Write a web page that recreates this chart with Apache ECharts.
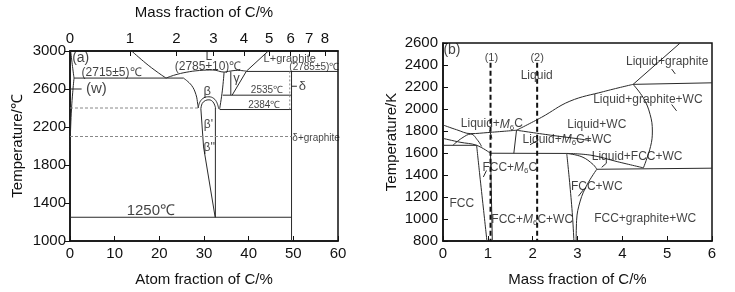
<!DOCTYPE html>
<html>
<head>
<meta charset="utf-8">
<script src="https://cdn.jsdelivr.net/npm/echarts@6/dist/echarts.min.js"></script>
<style>
  html, body { margin: 0; padding: 0; background: #fff; }
  #chart { width: 735px; height: 292px; }
</style>
</head>
<body>
<div id="chart"></div>
<script>
  // ---- panel (a): W-C diagram, atom fraction of C (%) vs temperature (°C)
  var massTicks = [0, 1, 2, 3, 4, 5, 6, 7, 8]
  var atomTicks = [0, 10, 20, 30, 40, 50, 60]
  var tempTicksA = [1000, 1400, 1800, 2200, 2600, 3000]

  var aWLiquidus = [[0.15, 3000], [0.5, 2860], [0.9, 2715]]
  var aWSolvus = [[0.9, 2715], [0.6, 2560], [0.35, 2400], [0.15, 2200], [0, 1950]]
  var aEutectic = [[0.9, 2715], [25.4, 2715]]
  var aLiquidusLeft = [[13.8, 3000], [17.0, 2870], [19.5, 2780], [21.5, 2715]]
  var aLiquidusMid = [[21.5, 2715], [23.5, 2748], [26, 2776], [29, 2795], [32, 2800], [34.5, 2778],
    [35.5, 2786], [37.5, 2796], [39.5, 2788]]
  var aLiquidusRight = [[39.5, 2788], [44.4, 3000]]
  var aBetaLeft = [[25.4, 2715], [27.2, 2639], [28.2, 2541], [28.6, 2440], [28.7, 2400]]
  var aBetaRight = [[34.5, 2778], [34.1, 2580], [33.5, 2390]]
  var aDomeOuter = [[28.7, 2400], [29.1, 2465], [30.0, 2508], [31.1, 2518], [32.2, 2500], [32.9, 2455], [33.3, 2390]]
  var aDomeInner = [[29.3, 2392], [29.6, 2448], [30.3, 2478], [31.1, 2486], [31.9, 2470], [32.4, 2430], [32.6, 2395]]
  var aBetaPPLeft = [[29.3, 2392], [29.9, 1990], [32.5, 1250]]
  var aBetaPPRight = [[32.55, 2400], [32.55, 1250]]
  var aGammaLeft = [[36.0, 2784], [36.0, 2535]]
  var aGammaRight = [[39.5, 2788], [36.3, 2535]]
  var a2785 = [[39.5, 2785], [60, 2785]]
  var a2535 = [[34.2, 2535], [49.6, 2535]]
  var a2384 = [[33.5, 2384], [49.6, 2384]]
  var a2400Dash = [[0, 2400], [28.7, 2400]]
  var aDeltaGraphite = [[0, 2100], [49.6, 2100]]
  var a1250 = [[0, 1250], [49.6, 1250]]
  var aDelta = [[49.6, 2785], [49.6, 1000]]
  var aDeltaDots = [[49.2, 2785], [49.2, 2384]]
  var aPointers = [
    [[0, 2600], [2.6, 2600]],
    [[49.6, 2629], [50.8, 2629]],
  ]
  var aTexts = [
    { name: '(a)', at: [2.4, 2920], size: 14 },
    { name: '(2715±5)℃', at: [9.3, 2776], size: 12 },
    { name: 'L', at: [31.1, 2945], size: 12 },
    { name: '(2785±10)℃', at: [30.9, 2838], size: 12 },
    { name: 'L+graphite', at: [49.2, 2912], size: 11 },
    { name: '(2785±5)℃', at: [54.7, 2826], size: 10 },
    { name: 'β', at: [30.7, 2575], size: 13 },
    { name: 'γ', at: [37.3, 2712], size: 13 },
    { name: '2535℃', at: [44.1, 2590], size: 10 },
    { name: '2384℃', at: [43.5, 2428], size: 10 },
    { name: 'δ', at: [52.0, 2629], size: 13 },
    { name: 'δ+graphite', at: [55.1, 2085], size: 10 },
    { name: "β'", at: [31.0, 2220], size: 12 },
    { name: "β''", at: [31.2, 1978], size: 12 },
    { name: '1250℃', at: [18.1, 1315], size: 15 },
    { name: '(w)', at: [5.9, 2600], size: 15 },
  ]

  // ---- panel (b): mass fraction of C (%) vs temperature (K)
  var massTicksB = [0, 1, 2, 3, 4, 5, 6]
  var tempTicksB = [800, 1000, 1200, 1400, 1600, 1800, 2000, 2200, 2400, 2600]

  var bLiqLeft = [[0, 1855], [0.3, 1812], [0.62, 1776], [1.0, 1786], [1.64, 1807]]
  var bLiqUpper = [[1.64, 1807], [2.2, 1925], [2.83, 2071], [3.58, 2158], [4.24, 2224]]
  var bLiqGraphite = [[4.24, 2224], [5.29, 2600]]
  var bLine2230 = [[4.24, 2224], [6, 2238]]
  var bWCArc = [[4.24, 2224], [4.47, 2100], [4.62, 1950], [4.67, 1800], [4.63, 1660], [4.47, 1465]]
  var bM6CWC = [[1.64, 1807], [1.58, 1598]]
  var bLiqM6CWC = [[1.64, 1807], [2.4, 1762], [3.0, 1730], [3.3, 1712]]
  var bLeftB = [[0, 1733], [0.38, 1698], [0.75, 1670], [1.05, 1600]]
  var bLine1670 = [[0, 1670], [0.75, 1670]]
  var bDome = [[0.22, 1670], [0.42, 1735], [0.62, 1772], [0.78, 1712], [0.86, 1660]]
  var bLine1600 = [[1.05, 1598], [2.76, 1596]]
  var bFCCSolvus = [[0.75, 1670], [0.82, 1400], [0.9, 1100], [0.98, 800]]
  var bM6CLine = [[1.06, 1598], [1.1, 800]]
  var bFCCWCLeft = [[2.76, 1596], [2.83, 1309], [2.89, 1017], [2.92, 800]]
  var bFCCWCRight = [[3.43, 1452], [3.21, 1309], [3.06, 1163], [2.98, 988], [2.97, 800]]
  var bUpper = [[2.76, 1596], [3.3, 1580], [3.9, 1520], [4.47, 1465]]
  var bLower = [[2.76, 1596], [3.1, 1565], [3.35, 1495], [3.43, 1452]]
  var bLine1450 = [[3.43, 1452], [6, 1462]]
  var bDash1 = [[1.06, 2420], [1.06, 800]]
  var bDash2 = [[2.1, 2420], [2.1, 800]]
  var bPointers = [
    [[5.10, 2363], [5.18, 2319]],
    [[5.10, 2041], [5.21, 1983]],
    [[1.04, 1807], [1.09, 1733]],
    [[1.94, 1675], [2.13, 1719]],
    [[3.54, 1470], [3.65, 1509]],
    [[0.90, 1382], [0.97, 1441]],
    [[3.02, 1207], [3.13, 1265]],
  ]
  var bTexts = [
    { name: '(b)', at: [0.2, 2538], size: 14 },
    { name: '(1)', at: [1.08, 2468], size: 11 },
    { name: '(2)', at: [2.1, 2468], size: 11 },
    { name: 'Liquid', at: [2.09, 2301], size: 12 },
    { name: 'Liquid+graphite', at: [5.0, 2433], size: 12 },
    { name: 'Liquid+graphite+WC', at: [4.57, 2082], size: 12 },
    { name: 'Liquid+{i|M}{s|6}C', at: [1.09, 1862], size: 12 },
    { name: 'Liquid+WC', at: [3.43, 1854], size: 12 },
    { name: 'Liquid+{i|M}{s|6}C+WC', at: [2.77, 1722], size: 12 },
    { name: 'Liquid+FCC+WC', at: [4.33, 1564], size: 12 },
    { name: 'FCC+{i|M}{s|6}C', at: [1.49, 1467], size: 12 },
    { name: 'FCC+WC', at: [3.43, 1292], size: 12 },
    { name: 'FCC', at: [0.42, 1143], size: 12 },
    { name: 'FCC+{i|M}{s|6}C+WC', at: [1.99, 993], size: 12 },
    { name: 'FCC+graphite+WC', at: [4.51, 1002], size: 12 },
  ]

  var FONT = 'Liberation Sans, Arial, sans-serif'
  var INK = '#2a2a2a'

  // mass % C -> atom % C in W-C (for the top axis of panel a)
  function massToAtom(w) {
    var c = w / 12.011
    var m = (100 - w) / 183.84
    return (c / (c + m)) * 100
  }
  var topTickPos = massTicks.map(massToAtom)

  var series = []
  function addLine(panel, data, style) {
    style = style || {}
    series.push({
      type: 'line',
      xAxisIndex: panel === 0 ? 0 : 2,
      yAxisIndex: panel,
      data: data,
      showSymbol: false,
      symbol: 'none',
      smooth: style.smooth || false,
      silent: true,
      animation: false,
      lineStyle: {
        color: style.color || INK,
        width: style.width || 1,
        type: style.type || 'solid',
      },
      z: 3,
    })
  }
  function addTexts(panel, list) {
    series.push({
      type: 'scatter',
      xAxisIndex: panel === 0 ? 0 : 2,
      yAxisIndex: panel,
      symbolSize: 0,
      silent: true,
      animation: false,
      data: list.map(function (t) {
        return {
          value: t.at,
          label: {
            show: true,
            position: 'inside',
            formatter: t.name,
            fontSize: t.size,
            fontFamily: FONT,
            color: '#111',
            rich: {
              i: { fontStyle: 'italic', fontSize: t.size, fontFamily: FONT, color: '#111' },
              s: { fontSize: 8, fontFamily: FONT, color: '#111', padding: [7, 0, 0, 0] },
            },
          },
        }
      }),
      z: 5,
    })
  }

  // panel a
  ;[aWLiquidus, aWSolvus, aLiquidusLeft, aLiquidusMid, aBetaLeft, aBetaRight, aDomeOuter, aDomeInner].forEach(
    function (d) { addLine(0, d, { smooth: 0.4 }) }
  )
  ;[aEutectic, aLiquidusRight, aBetaPPLeft, aBetaPPRight, aGammaLeft, aGammaRight, a2785, a2535, a2384,
    a1250, aDelta].forEach(function (d) { addLine(0, d) })
  addLine(0, a2400Dash, { color: '#888', type: [3, 2] })
  addLine(0, aDeltaGraphite, { color: '#888', type: [3, 2] })
  addLine(0, aDeltaDots, { color: '#888', type: [2, 2] })
  aPointers.forEach(function (d) { addLine(0, d) })
  addTexts(0, aTexts)

  // panel b
  ;[bLiqLeft, bLiqUpper, bWCArc, bDome, bFCCSolvus, bFCCWCLeft, bFCCWCRight, bUpper, bLower, bLiqM6CWC, bLeftB].forEach(
    function (d) { addLine(1, d, { smooth: 0.4 }) }
  )
  ;[bLiqGraphite, bLine2230, bM6CWC, bLine1670, bLine1600, bM6CLine, bLine1450].forEach(function (d) { addLine(1, d) })
  addLine(1, bDash1, { color: '#111', width: 2, type: [5, 3] })
  addLine(1, bDash2, { color: '#111', width: 2, type: [5, 3] })
  bPointers.forEach(function (d) { addLine(1, d) })
  addTexts(1, bTexts)

  function plain(v) { return String(v) }
  var axisLabelStyle = { fontSize: 15, fontFamily: FONT, color: '#111', formatter: plain }
  var axisNameStyle = { fontSize: 15, fontFamily: FONT, color: '#111' }
  var frame = { show: true, lineStyle: { color: '#111', width: 1.5 } }

  var chart = echarts.init(document.getElementById('chart'), null, { renderer: 'canvas' })
  chart.setOption({
    animation: false,
    backgroundColor: '#fff',
    grid: [
      { left: 70, right: 397, top: 43, bottom: 44, show: true, borderColor: '#111', borderWidth: 1.5 },
      { left: 443, right: 23, top: 43, bottom: 44, show: true, borderColor: '#111', borderWidth: 1.5 },
    ],
    xAxis: [
      {
        gridIndex: 0, type: 'value', position: 'bottom',
        min: atomTicks[0], max: atomTicks[atomTicks.length - 1], interval: 10,
        axisLine: frame,
        axisTick: { show: true, inside: true, length: 5, lineStyle: { color: '#111' } },
        axisLabel: Object.assign({}, axisLabelStyle, { margin: 5 }),
        splitLine: { show: false },
        name: 'Atom fraction of C/%', nameLocation: 'middle', nameGap: 31, nameTextStyle: axisNameStyle,
      },
      {
        gridIndex: 0, type: 'value', position: 'top',
        min: atomTicks[0], max: atomTicks[atomTicks.length - 1],
        axisLine: frame,
        axisTick: { show: true, inside: true, length: 5, customValues: topTickPos, lineStyle: { color: '#111' } },
        axisLabel: Object.assign({}, axisLabelStyle, {
          margin: 5,
          customValues: topTickPos,
          formatter: function (v) {
            var best = 0
            topTickPos.forEach(function (p, i) {
              if (Math.abs(p - v) < Math.abs(topTickPos[best] - v)) best = i
            })
            return String(massTicks[best])
          },
        }),
        splitLine: { show: false },
        name: 'Mass fraction of C/%', nameLocation: 'middle', nameGap: 31, nameTextStyle: axisNameStyle,
      },
      {
        gridIndex: 1, type: 'value', position: 'bottom',
        min: massTicksB[0], max: massTicksB[massTicksB.length - 1], interval: 1,
        axisLine: frame,
        axisTick: { show: true, inside: true, length: 5, lineStyle: { color: '#111' } },
        axisLabel: Object.assign({}, axisLabelStyle, { margin: 5 }),
        splitLine: { show: false },
        name: 'Mass fraction of C/%', nameLocation: 'middle', nameGap: 31, nameTextStyle: axisNameStyle,
      },
    ],
    yAxis: [
      {
        gridIndex: 0, type: 'value',
        min: tempTicksA[0], max: tempTicksA[tempTicksA.length - 1], interval: 400,
        axisLine: frame,
        axisTick: { show: true, inside: false, length: 5, lineStyle: { color: '#111' } },
        axisLabel: Object.assign({}, axisLabelStyle, { margin: 4 }),
        splitLine: { show: false },
        name: 'Temperature/℃', nameLocation: 'middle', nameRotate: 90, nameGap: 45, nameTextStyle: axisNameStyle,
      },
      {
        gridIndex: 1, type: 'value',
        min: tempTicksB[0], max: tempTicksB[tempTicksB.length - 1], interval: 200,
        axisLine: frame,
        axisTick: { show: true, inside: true, length: 5, lineStyle: { color: '#111' } },
        axisLabel: Object.assign({}, axisLabelStyle, { margin: 5 }),
        splitLine: { show: false },
        name: 'Temperature/K', nameLocation: 'middle', nameRotate: 90, nameGap: 44, nameTextStyle: axisNameStyle,
      },
    ],
    series: series,
  })
</script>
</body>
</html>
